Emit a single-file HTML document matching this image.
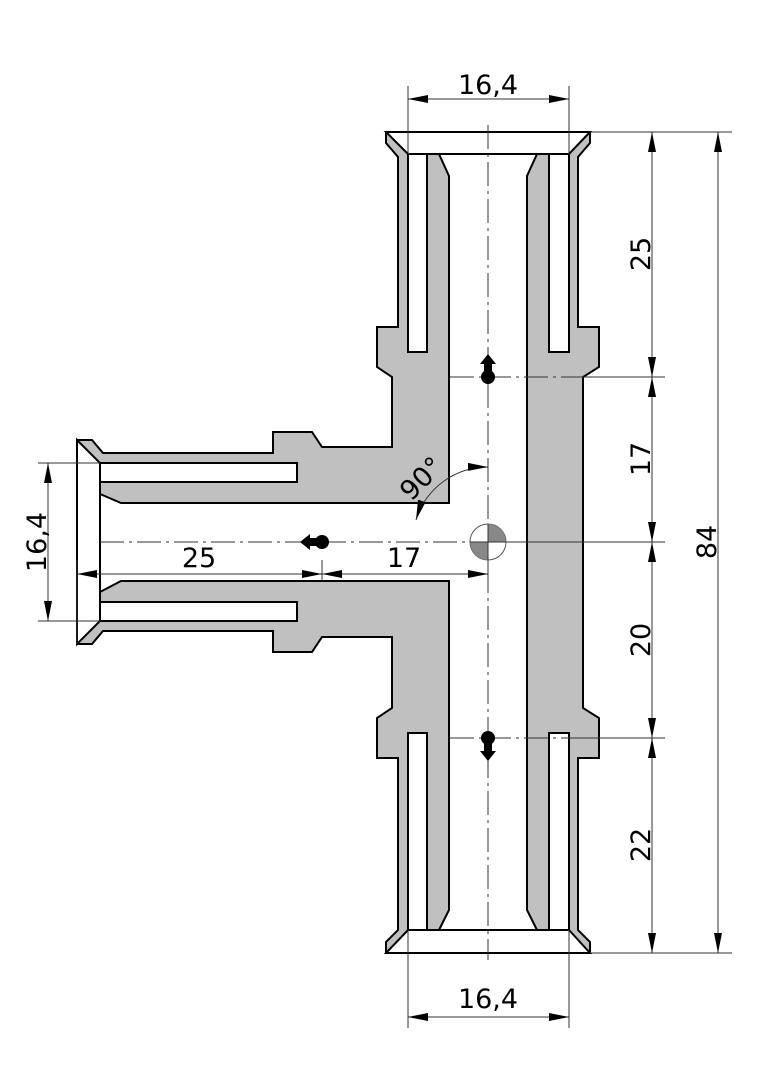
<!DOCTYPE html>
<html><head><meta charset="utf-8"><style>
html,body{margin:0;padding:0;background:#fff;}
svg{display:block;}
text{font-family:"DejaVu Sans","Liberation Sans",sans-serif;font-size:27px;fill:#000;}
</style></head><body>
<svg width="764" height="1080" viewBox="0 0 764 1080" xmlns="http://www.w3.org/2000/svg">
<defs>
<marker id="a" viewBox="0 0 20 8" refX="20" refY="4" markerWidth="20" markerHeight="8" markerUnits="userSpaceOnUse" orient="auto"><path d="M0,0 L20,4 L0,8 Z" fill="#000"/></marker>
<marker id="b" viewBox="0 0 20 8" refX="0" refY="4" markerWidth="20" markerHeight="8" markerUnits="userSpaceOnUse" orient="auto"><path d="M20,0 L0,4 L20,8 Z" fill="#000"/></marker>
</defs>
<polygon fill="#c0c0c0" stroke="#000" stroke-width="2" stroke-linejoin="miter" points="386,132 590,132 590,143 578,157 578,327 599,327 599,367 583,377 583,708 599,718 599,758 578,758 578,930 590,942 590,953 386,953 386,942 398,930 398,758 377,758 377,718 392,708 392,637 322,637 312,652 273,652 273,631 103,631 92,644 77,644 77,440 92,440 103,453 273,453 273,432 312,432 322,447 392,447 392,377 377,367 377,327 398,327 398,157 386,143"/>
<g fill="#fff" stroke="#000" stroke-width="2">
<polygon points="386,132 590,132 569,154 408,154"/>
<polygon points="386,953 590,953 569,930 408,930"/>
<polygon points="77,440 100,463 100,621 77,644"/>
<rect x="408" y="154" width="19" height="198"/>
<rect x="549" y="154" width="20" height="198"/>
<rect x="408" y="733" width="19" height="197"/>
<rect x="549" y="733" width="20" height="197"/>
<rect x="100" y="463" width="197" height="19"/>
<rect x="100" y="602" width="197" height="19"/>
<polygon points="439,154 537,154 527,176 527,910 537,930 439,930 449,910 449,581 121,581 100,592 100,494 121,503 449,503 449,176"/>
</g>
<line x1="386" y1="132" x2="590" y2="132" stroke="#000" stroke-width="2"/>
<g stroke="#333" stroke-width="1" fill="none" stroke-dasharray="24,5,3,5">
<line x1="488" y1="125" x2="488" y2="960"/>
<line x1="100" y1="542" x2="470" y2="542"/>
<line x1="450" y1="377" x2="583" y2="377"/>
<line x1="450" y1="738" x2="583" y2="738"/>
</g>
<g stroke="#333" stroke-width="1" fill="none">
<line x1="408" y1="86" x2="408" y2="154"/>
<line x1="569" y1="86" x2="569" y2="154"/>
<line x1="408" y1="930" x2="408" y2="1028"/>
<line x1="569" y1="930" x2="569" y2="1028"/>
<line x1="590" y1="132" x2="732" y2="132"/>
<line x1="583" y1="377" x2="665" y2="377"/>
<line x1="506" y1="542" x2="665" y2="542"/>
<line x1="583" y1="738" x2="665" y2="738"/>
<line x1="590" y1="953" x2="732" y2="953"/>
<line x1="38" y1="463" x2="100" y2="463"/>
<line x1="38" y1="621" x2="100" y2="621"/>
<line x1="77" y1="560" x2="77" y2="644"/>
<line x1="322" y1="560" x2="322" y2="580"/>
<line x1="488" y1="555" x2="488" y2="580"/>
</g>
<g stroke="#333" stroke-width="1" fill="none">
<line x1="408" y1="99" x2="569" y2="99" marker-start="url(#b)" marker-end="url(#a)"/>
<line x1="408" y1="1017" x2="569" y2="1017" marker-start="url(#b)" marker-end="url(#a)"/>
<line x1="652" y1="132" x2="652" y2="377" marker-start="url(#b)" marker-end="url(#a)"/>
<line x1="652" y1="377" x2="652" y2="542" marker-start="url(#b)" marker-end="url(#a)"/>
<line x1="652" y1="542" x2="652" y2="738" marker-start="url(#b)" marker-end="url(#a)"/>
<line x1="652" y1="738" x2="652" y2="953" marker-start="url(#b)" marker-end="url(#a)"/>
<line x1="718" y1="132" x2="718" y2="953" marker-start="url(#b)" marker-end="url(#a)"/>
<line x1="48" y1="463" x2="48" y2="621" marker-start="url(#b)" marker-end="url(#a)"/>
<line x1="77" y1="574" x2="322" y2="574" marker-start="url(#b)" marker-end="url(#a)"/>
<line x1="322" y1="574" x2="488" y2="574" marker-start="url(#b)" marker-end="url(#a)"/>
<path d="M416,520 A75,75 0 0 1 488,467" marker-start="url(#b)" marker-end="url(#a)"/>
</g>
<circle cx="488" cy="542" r="18" fill="#fff" stroke="#555" stroke-width="1"/>
<path d="M488,542 L488,524 A18,18 0 0 1 506,542 Z" fill="#888"/>
<path d="M488,542 L488,560 A18,18 0 0 1 470,542 Z" fill="#888"/>
<line x1="470" y1="542" x2="506" y2="542" stroke="#333" stroke-width="1"/>
<line x1="488" y1="524" x2="488" y2="560" stroke="#333" stroke-width="1"/>
<g fill="#000">
<circle cx="488" cy="377" r="7"/><polygon points="488,354 496,364 492,364 492,372 484,372 484,364 480,364"/>
<circle cx="488" cy="738" r="7"/><polygon points="488,761 496,751 492,751 492,743 484,743 484,751 480,751"/>
<circle cx="322" cy="542" r="7"/><polygon points="300,542 310,534 310,538 318,538 318,546 310,546 310,550"/>
</g>
<text x="488" y="94" text-anchor="middle">16,4</text>
<text x="488" y="1008" text-anchor="middle">16,4</text>
<text x="199" y="567" text-anchor="middle">25</text>
<text x="404" y="567" text-anchor="middle">17</text>
<text transform="translate(650,254) rotate(-90)" text-anchor="middle">25</text>
<text transform="translate(650,459) rotate(-90)" text-anchor="middle">17</text>
<text transform="translate(650,640) rotate(-90)" text-anchor="middle">20</text>
<text transform="translate(650,845) rotate(-90)" text-anchor="middle">22</text>
<text transform="translate(716,542) rotate(-90)" text-anchor="middle">84</text>
<text transform="translate(46,542) rotate(-90)" text-anchor="middle">16,4</text>
<text transform="translate(428,485) rotate(-45)" text-anchor="middle">90°</text>
</svg>
</body></html>
